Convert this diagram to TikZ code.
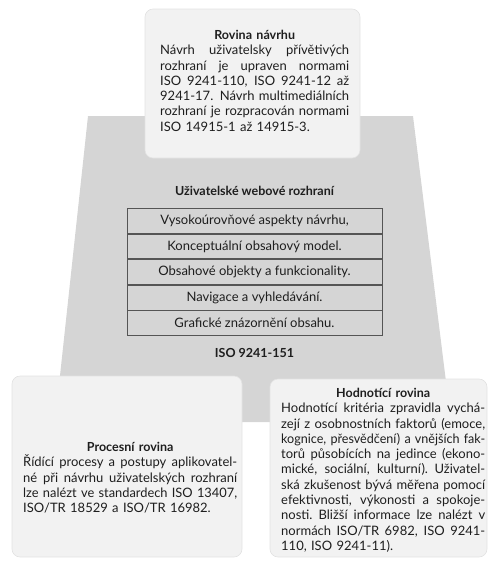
\documentclass[tikz,border=0pt]{standalone}
\usepackage{fontspec}
\setmainfont{Lato}
\usepackage{graphicx}
\definecolor{trap}{HTML}{D5D5D5}
\definecolor{boxfill}{HTML}{F2F2F2}
\definecolor{boxline}{HTML}{E2E2E2}
\definecolor{ink}{HTML}{1E1E1E}
\definecolor{rowline}{HTML}{555555}
\newlength\mylw
\newcommand\myjl[1]{\leavevmode\setbox0\hbox{#1}\ifdim\wd0>\mylw\relax\resizebox{\mylw}{\height}{#1}\else\hbox to\mylw{\spaceskip=\fontdimen2\font plus 1fil\relax\xspaceskip=\spaceskip #1}\fi}
\newcommand\myll[1]{\leavevmode\setbox0\hbox{#1}\ifdim\wd0>\mylw\relax\resizebox{\mylw}{\height}{#1}\else\makebox[\mylw][l]{#1}\fi}
\newcommand\mytl[1]{\leavevmode\makebox[\mylw][c]{\fontsize{12.5}{15.3}\selectfont\bfseries #1}}
\begin{document}
\begin{tikzpicture}[x=1pt,y=-1pt,
  txt/.style={font=\fontsize{13}{15.3}\selectfont, text=ink},
  panel/.style={fill=boxfill, draw=boxline, line width=0.6pt, rounded corners=8pt},
  textblock/.style={txt, anchor=north west, inner sep=0pt, align=left},
  tabrow/.style={txt, draw=rowline, line width=0.8pt, minimum width=255pt, minimum height=24.8pt, inner sep=0pt, anchor=north},
  heading/.style={text=ink, font=\fontsize{12.5}{15.3}\selectfont\bfseries, inner sep=0pt}]
\useasboundingbox (0,0) rectangle (488,563);
% trapezoid
\fill[trap] (88,116) -- (413,116) -- (451,422) -- (55,422) -- cycle;
% panels
\draw[panel] (145,9) rectangle (360,158);
\draw[panel] (12,376) rectangle (242,557);
\draw[panel] (270,379) rectangle (487,557);
% top text
\setlength\mylw{189pt}
\node[textblock, text width=190pt] (toptext) at (160,30) {%
\mytl{Rovina návrhu}\\
\myjl{Návrh uživatelsky přívětivých}\\
\myjl{rozhraní je upraven normami}\\
\myjl{ISO 9241-110, ISO 9241-12 až}\\
\myjl{9241-17. Návrh multimediálních}\\
\myjl{rozhraní je rozpracován normami}\\
\myll{ISO 14915-1 až 14915-3.}};
% middle
\node[heading] (uwr) at (254.5,191) {Uživatelské webové rozhraní};
\node[tabrow] (r1) at (254.5,208) {Vysokoúrovňové aspekty návrhu,};
\node[tabrow] (r2) at (r1.south) {Konceptuální obsahový model.};
\node[tabrow] (r3) at (r2.south) {Obsahové objekty a funkcionality.};
\node[tabrow] (r4) at (r3.south) {Navigace a vyhledávání.};
\node[tabrow] (r5) at (r4.south) {Grafické znázornění obsahu.};
\node[heading] (iso) at (254.5,353) {ISO 9241-151};
% left text
\setlength\mylw{214pt}
\node[textblock, text width=215pt] (lefttext) at (23,442) {%
\mytl{Procesní rovina}\\
\myjl{Řídící procesy a postupy aplikovatel-}\\
\myjl{né při návrhu uživatelských rozhraní}\\
\myjl{lze nalézt ve standardech ISO 13407,}\\
\myll{ISO/TR 18529 a ISO/TR 16982.}};
% right text
\setlength\mylw{204pt}
\node[textblock, text width=205pt] (righttext) at (281,388) {%
\mytl{Hodnotící rovina}\\
\myjl{Hodnotící kritéria zpravidla vychá-}\\
\myjl{zejí z osobnostních faktorů (emoce,}\\
\myjl{kognice, přesvědčení) a vnějších fak-}\\
\myjl{torů působících na jedince (ekono-}\\
\myjl{mické, sociální, kulturní). Uživatel-}\\
\myjl{ská zkušenost bývá měřena pomocí}\\
\myjl{efektivnosti, výkonosti a spokoje-}\\
\myjl{nosti. Bližší informace lze nalézt v}\\
\myjl{normách ISO/TR 6982, ISO 9241-}\\
\myll{110, ISO 9241-11).}};
\end{tikzpicture}
\end{document}
